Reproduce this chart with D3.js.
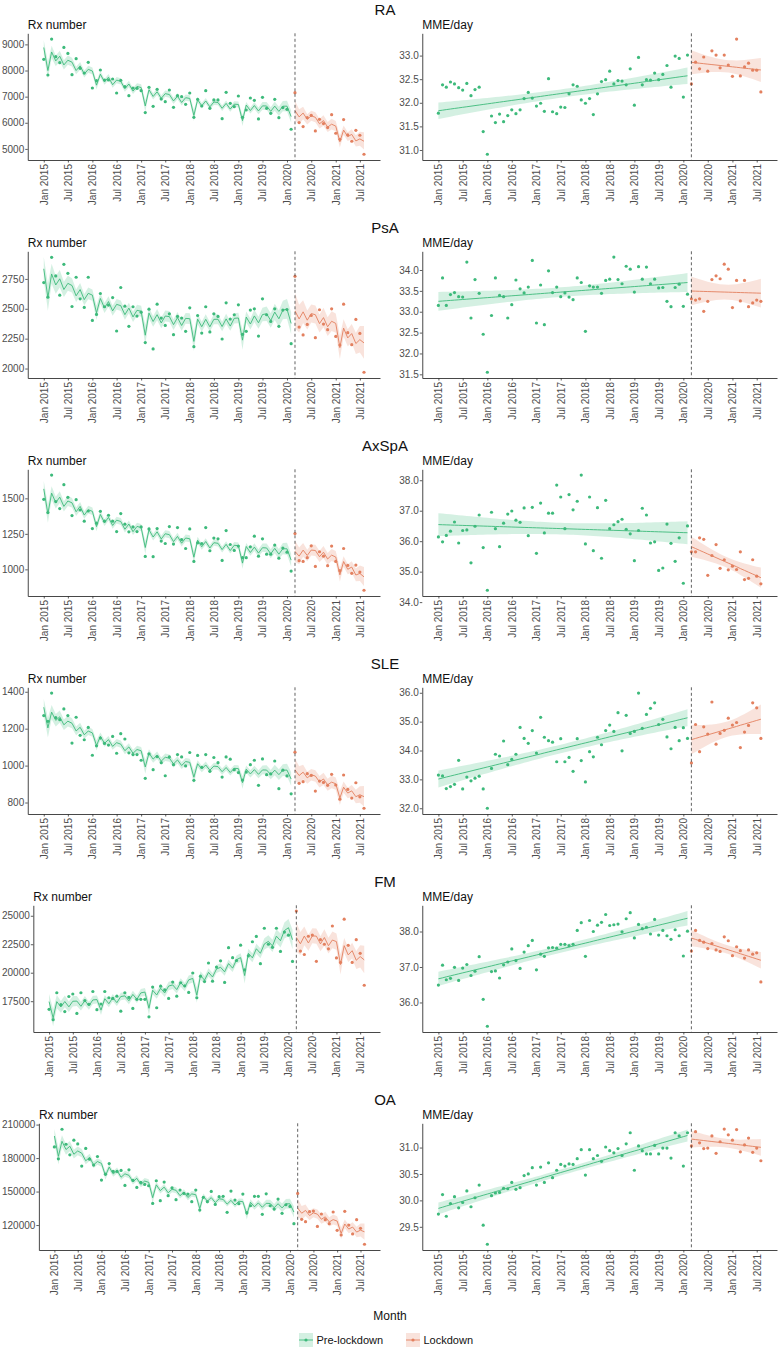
<!DOCTYPE html>
<html><head><meta charset="utf-8">
<script src="https://cdn.jsdelivr.net/npm/d3@7"></script>
<style>
body{margin:0;background:#fff}
svg{display:block}
text{font-family:"Liberation Sans",Arial,Helvetica,sans-serif}
</style>
</head><body>
<svg id="chart" width="781" height="1354"></svg>
<script>
// ---------------- DATA ----------------
// Monthly values Jan 2015 .. Aug 2021 (first 62 = pre-lockdown, last 18 = lockdown)
const conditions = ["RA", "PsA", "AxSpA", "SLE", "FM", "OA"];
const groupNames = ["Pre-lockdown", "Lockdown"];

const raRx = [8427,7828,9204,8529,8299,8885,8656,7841,8452,8083,7904,8312,
  7331,7611,8019,7637,7637,7675,7140,7624,7382,7038,7331,7318,
  7229,6389,7357,6631,7280,6911,6809,7255,6592,7038,7000,6707,
  7140,6210,6898,6643,7229,6554,6873,6873,6159,7166,6745,6618,
  7025,6210,6490,6949,6860,6146,6975,6554,6363,6898,6197,6580,
  6516,5752,
  7153,6006,5854,6197,6287,5688,6134,5968,5815,6312,5599,5369,6121,5535,5293,5713,5522,4796];
const raMME = [31.78,32.38,32.33,32.44,32.40,32.32,32.27,32.41,32.15,32.28,32.33,31.39,
  30.91,31.72,31.58,31.76,31.60,31.73,31.85,31.77,31.85,32.09,32.22,32.10,
  31.93,31.99,31.82,32.51,31.81,31.77,31.91,31.90,32.19,32.38,32.35,32.06,
  31.99,32.09,31.75,32.19,32.45,32.49,32.67,32.40,32.47,32.46,32.38,32.72,
  31.95,32.96,32.38,32.49,32.48,32.63,32.49,32.60,32.79,32.33,32.99,32.94,
  32.12,33.01,
  32.40,32.86,32.72,32.97,32.67,33.10,33.01,32.74,33.01,32.80,32.56,33.35,32.57,32.76,32.84,32.69,32.69,32.23];
const psaRx = [2719,2597,2931,2775,2614,2872,2797,2519,2764,2583,2511,2764,
  2403,2453,2628,2517,2531,2594,2314,2678,2522,2353,2517,2439,
  2472,2217,2497,2164,2539,2422,2361,2458,2283,2436,2422,2311,
  2508,2183,2444,2297,2517,2306,2458,2436,2247,2550,2414,2450,
  2533,2286,2311,2489,2500,2272,2583,2450,2394,2500,2353,2489,
  2494,2208,
  2772,2347,2281,2369,2444,2258,2492,2372,2325,2500,2269,2197,2539,2300,2200,2411,2294,1969];
const psaMME = [33.15,33.81,33.15,33.41,33.46,33.36,33.35,34.19,32.85,33.77,33.44,32.46,
  31.55,32.91,33.81,33.39,33.36,32.85,33.17,33.76,33.55,33.45,33.59,34.23,
  32.73,33.64,32.69,33.98,33.46,33.59,33.36,33.45,33.35,33.29,33.81,33.70,
  32.53,33.62,33.59,33.59,33.44,33.75,33.78,34.31,33.77,33.67,34.09,34.02,
  33.47,34.08,33.78,34.07,33.67,33.78,33.57,33.58,33.25,33.12,33.58,33.66,
  33.13,33.42,
  33.31,33.28,33.31,33.01,33.25,33.77,33.86,33.79,34.14,34.02,33.10,33.75,33.26,33.75,33.12,33.21,33.28,33.25];
const axspaRx = [1493,1400,1664,1477,1428,1596,1507,1379,1491,1418,1339,1411,
  1287,1325,1409,1339,1381,1339,1266,1393,1318,1264,1299,1266,
  1299,1091,1285,1089,1287,1199,1182,1301,1178,1294,1210,1147,
  1285,1056,1187,1182,1294,1131,1220,1215,1063,1273,1175,1133,
  1164,1082,1082,1159,1234,1093,1215,1107,1107,1171,1079,1150,
  1121,988,
  1252,1061,1056,1082,1166,1021,1124,1093,1026,1164,1056,991,1147,1028,972,1030,981,853];
const axspaMME = [36.14,35.98,36.19,36.33,36.63,35.94,36.35,36.37,35.29,36.49,36.86,35.79,
  34.39,36.95,36.41,35.82,36.59,36.89,36.99,36.69,36.62,37.09,36.18,37.11,
  35.60,37.25,36.27,36.92,36.92,37.84,37.45,36.41,37.53,37.03,37.31,38.17,
  35.91,37.45,35.69,37.10,35.44,37.34,36.41,36.54,36.64,36.72,36.39,36.24,
  35.36,36.35,37.08,36.86,35.94,35.98,35.04,35.12,36.56,35.93,35.34,36.11,
  34.62,36.50,
  35.65,35.65,36.11,36.06,34.88,35.53,35.89,35.11,35.39,35.06,35.18,35.07,35.65,34.74,34.78,35.39,34.85,34.60];
const sleRx = [1271,1240,1393,1260,1249,1307,1271,1122,1262,1164,1140,1207,
  1056,1107,1149,1120,1111,1158,1067,1173,1144,1069,1060,1060,
  1029,931,1064,978,1049,1016,945,1047,1005,1060,1047,998,
  1071,920,1055,991,1060,969,1044,1016,938,1047,1035,978,
  962,922,965,1005,1029,893,1036,951,955,1025,875,975,
  944,847,
  1073,904,913,956,947,862,916,909,893,953,895,818,949,871,824,907,831,769];
const sleMME = [33.15,33.12,32.68,32.75,32.83,33.66,32.67,33.08,32.95,33.04,33.11,32.67,
  32.00,33.38,33.87,33.81,34.33,33.51,33.69,33.87,34.80,34.42,34.25,34.69,
  33.91,35.15,34.46,34.34,34.29,33.61,34.41,33.61,33.76,33.28,34.41,33.65,
  32.91,33.96,33.78,34.46,34.20,34.69,34.88,34.66,35.31,33.99,35.22,34.59,
  34.66,35.99,34.77,35.25,35.46,35.65,34.90,35.08,34.47,34.06,34.80,34.34,
  34.79,34.42,
  33.57,34.90,33.96,34.82,34.57,35.68,34.22,34.59,34.70,35.12,34.88,34.97,34.10,34.64,34.87,35.65,35.48,34.42];
const fmRx = [16786,15879,18242,17198,16593,17912,18132,16429,18242,17555,17225,18352,
  16758,17253,18352,17802,17747,17940,16621,18242,17830,16868,17665,17665,
  17665,16126,18736,16923,18819,18489,17747,19176,17940,19121,18846,18269,
  19973,17802,19698,19231,20852,19258,20495,21044,19148,22198,21319,21071,
  22418,20247,21484,22720,23187,20797,23901,22500,22225,23901,21868,23571,
  23297,20989,
  25412,21900,21600,23200,23300,21000,22900,22500,22100,24100,21300,20900,24700,22400,20900,22900,21700,18900];
const fmMME = [36.49,37.05,36.64,36.68,36.99,36.62,36.97,37.07,36.76,36.88,37.29,36.09,
  35.33,36.87,36.89,36.69,37.06,37.14,37.51,37.18,36.96,37.42,37.60,37.75,
  36.92,37.36,37.30,37.54,37.55,37.53,37.64,37.64,37.60,37.64,38.03,38.25,
  37.30,38.31,38.00,38.18,38.26,38.48,38.17,38.19,38.21,37.99,38.36,38.53,
  37.82,38.20,38.08,38.12,37.93,38.34,37.90,38.03,37.88,37.78,38.05,37.88,
  37.31,38.01,
  37.45,38.03,37.75,37.70,37.52,37.66,37.48,37.44,37.85,37.74,37.32,37.57,37.46,37.25,37.48,37.36,37.40,36.58];
const oaRx = [190000,179300,205800,192400,182900,196000,192700,172800,188600,179000,173700,181400,
  160300,165600,175100,168000,168000,168900,155500,169500,160000,153700,158200,156400,
  155200,139400,159700,141800,158500,146300,153400,142700,151300,148300,147700,140900,
  151300,133400,144800,140900,150100,138500,145400,145700,131400,150400,142400,139100,
  147700,131100,137300,145700,145700,129600,148000,137300,134300,143300,130500,138200,
  136700,121200,
  148300,125100,123000,132000,132500,118800,129900,124800,121200,131700,115300,111100,132300,120000,112000,124800,117100,102800];
const oaMME = [29.74,30.11,29.70,29.94,30.07,29.86,29.96,30.18,29.88,30.05,30.29,29.53,
  29.17,30.09,30.14,30.15,30.23,30.22,30.34,30.21,30.24,30.47,30.50,30.62,
  30.29,30.63,30.34,30.71,30.43,30.57,30.68,30.65,30.69,30.68,30.79,30.96,
  30.48,30.96,30.79,30.85,30.74,31.01,30.94,30.90,30.98,30.85,31.07,31.28,
  30.57,31.03,30.94,30.88,30.88,31.04,30.88,30.99,30.99,30.80,31.28,31.22,
  30.65,31.28,
  31.03,31.30,31.09,30.98,30.99,31.22,30.89,31.11,31.35,31.24,31.14,31.34,30.92,31.05,31.18,30.91,30.99,30.75];

const rxSeries = [raRx, psaRx, axspaRx, sleRx, fmRx, oaRx];
const mmeSeries = [raMME, psaMME, axspaMME, sleMME, fmMME, oaMME];

const rxTicks = [
  [5000, 6000, 7000, 8000, 9000],
  [2000, 2250, 2500, 2750],
  [1000, 1250, 1500],
  [800, 1000, 1200, 1400],
  [17500, 20000, 22500, 25000],
  [120000, 150000, 180000, 210000]
];
const mmeTicks = [
  [31.0, 31.5, 32.0, 32.5, 33.0],
  [31.5, 32.0, 32.5, 33.0, 33.5, 34.0],
  [34.0, 35.0, 36.0, 37.0, 38.0],
  [32.0, 33.0, 34.0, 35.0, 36.0],
  [36.0, 37.0, 38.0],
  [29.5, 30.0, 30.5, 31.0]
];
const rxLabel = "Rx number";
const mmeLabel = "MME/day";
const xAxisTitle = "Month";

// ---------------- SETUP ----------------
const N = 80, LOCK = 62;
const dates = d3.range(N).map(i => new Date(2015, i, 1));
const lockDate = dates[LOCK];
const xTicks = d3.timeMonth.range(new Date(2015, 0, 1), new Date(2021, 7, 2), 6);
const span = dates[N - 1] - dates[0];
const xDomain = [new Date(+dates[0] - 0.05 * span), new Date(+dates[N - 1] + 0.05 * span)];

const COL = ["#3dba7b", "#e3805f"];
const FILL = ["#3dba7b", "#e3805f"];

const svg = d3.select("#chart");

// number of days in each month (calendar covariate for the Rx model)
const monthDays = dates.map(d => d3.timeDay.count(d, d3.timeMonth.offset(d, 1)));

// ---------------- STATS ----------------
function tcrit(df) {
  const z = 1.959964;
  return z + (z ** 3 + z) / (4 * df) + (5 * z ** 5 + 16 * z ** 3 + 3 * z) / (96 * df * df);
}
function invert(M) {
  const n = M.length;
  const A = M.map((r, i) => r.concat(d3.range(n).map(j => (i === j ? 1 : 0))));
  for (let c = 0; c < n; c++) {
    let piv = c;
    for (let r = c + 1; r < n; r++) if (Math.abs(A[r][c]) > Math.abs(A[piv][c])) piv = r;
    [A[c], A[piv]] = [A[piv], A[c]];
    const d = A[c][c];
    for (let k = 0; k < 2 * n; k++) A[c][k] /= d;
    for (let r = 0; r < n; r++) {
      if (r === c) continue;
      const f = A[r][c];
      if (f !== 0) for (let k = 0; k < 2 * n; k++) A[r][k] -= f * A[c][k];
    }
  }
  return A.map(r => r.slice(n));
}
const dot = (a, b) => a.reduce((s, v, i) => s + v * b[i], 0);
const quad = (x, M) => { let v = 0; for (let j = 0; j < x.length; j++) for (let k = 0; k < x.length; k++) v += x[j] * M[j][k] * x[k]; return v; };

function wls(X, z, w) {
  const n = X.length, p = X[0].length;
  const A = d3.range(p).map(() => new Array(p).fill(0));
  const b = new Array(p).fill(0);
  for (let i = 0; i < n; i++) for (let j = 0; j < p; j++) {
    b[j] += w[i] * X[i][j] * z[i];
    for (let k = 0; k < p; k++) A[j][k] += w[i] * X[i][j] * X[i][k];
  }
  const inv = invert(A);
  return { beta: inv.map(r => dot(r, b)), inv };
}
function ols(X, y) {
  const { beta, inv } = wls(X, y, y.map(() => 1));
  let rss = 0;
  for (let i = 0; i < X.length; i++) rss += (y[i] - dot(X[i], beta)) ** 2;
  const df = X.length - X[0].length;
  return { beta, inv, s2: rss / df, df };
}
// quasi-Poisson GLM (log link) by IRLS
function quasiPoisson(X, y) {
  let beta = X[0].map((_, j) => (j === 0 ? Math.log(d3.mean(y)) : 0));
  let inv, mu;
  for (let it = 0; it < 30; it++) {
    const eta = X.map(r => dot(r, beta));
    mu = eta.map(Math.exp);
    const z = eta.map((e, i) => e + (y[i] - mu[i]) / mu[i]);
    const res = wls(X, z, mu);
    beta = res.beta; inv = res.inv;
  }
  mu = X.map(r => Math.exp(dot(r, beta)));
  const df = X.length - X[0].length;
  const phi = d3.sum(y, (v, i) => (v - mu[i]) ** 2 / mu[i]) / df;
  return { beta, inv, phi, df };
}

// Rx number: segmented quadratic trend + month length, quasi-Poisson model
function seasonalFit(vals) {
  const row = i => {
    const L = i >= LOCK ? 1 : 0;
    const t = i / 10, s = (i - LOCK) / 10;
    return [1, t, t * t, L, L * s, L * s * s, Math.log(monthDays[i] / 30.4)];
  };
  const X = d3.range(N).map(row);
  const fit = quasiPoisson(X, vals);
  return d3.range(N).map(i => {
    const x = row(i), eta = dot(x, fit.beta), se = Math.sqrt(quad(x, fit.inv) * fit.phi);
    return { i, g: i >= LOCK ? 1 : 0, m: Math.exp(eta), lo: Math.exp(eta - 1.96 * se), hi: Math.exp(eta + 1.96 * se) };
  });
}
// MME/day: linear trend per period
function linearFit(vals) {
  const out = [];
  [[0, LOCK], [LOCK, N]].forEach(([a, b], g) => {
    const idx = d3.range(a, b);
    const fit = ols(idx.map(i => [1, i]), idx.map(i => vals[i]));
    const tc = tcrit(fit.df);
    idx.forEach(i => {
      const x = [1, i], m = dot(x, fit.beta), h = tc * Math.sqrt(quad(x, fit.inv) * fit.s2);
      out.push({ i, g, m, lo: m - h, hi: m + h });
    });
  });
  return out;
}

// ---------------- LAYOUT ----------------
const ROW = 218;
const colLeft = [0, 397.3];
const colRight = [380, 777];

function measure(strs, size) {
  const t = svg.append("text").style("font-size", size + "px");
  const w = d3.max(strs, s => { t.text(s); return t.node().getComputedTextLength(); });
  t.remove();
  return w;
}

function drawPanel(r, c, vals, ticks, fmt, fits, label) {
  const top = r * ROW + 33.3, bottom = r * ROW + 160;
  const labW = measure(ticks.map(fmt), 10);
  const x0 = colLeft[c] + 2 + labW + 3.5;
  const x1 = colRight[c];
  const x = d3.scaleTime().domain(xDomain).range([x0, x1]);
  const ext = d3.extent(vals.concat(fits.map(d => d.lo), fits.map(d => d.hi)));
  const pad = (ext[1] - ext[0]) * 0.05;
  const y = d3.scaleLinear().domain([ext[0] - pad, ext[1] + pad]).range([bottom, top]);
  const g = svg.append("g");

  // ribbons + lines
  [0, 1].forEach(k => {
    const seg = fits.filter(d => d.g === k);
    g.append("path").datum(seg)
      .attr("d", d3.area().x(d => x(dates[d.i])).y0(d => y(d.lo)).y1(d => y(d.hi)))
      .attr("fill", FILL[k]).attr("fill-opacity", 0.22).attr("stroke", "none");
    g.append("path").datum(seg)
      .attr("d", d3.line().x(d => x(dates[d.i])).y(d => y(d.m)))
      .attr("fill", "none").attr("stroke", COL[k]).attr("stroke-width", 0.9);
  });
  // points
  g.selectAll("circle.pt").data(vals.map((v, i) => ({ v, i })))
    .join("circle").attr("class", "pt")
    .attr("cx", d => x(dates[d.i])).attr("cy", d => y(d.v)).attr("r", 1.6)
    .attr("fill", d => COL[d.i >= LOCK ? 1 : 0]);
  // lockdown line
  g.append("line").attr("x1", x(lockDate)).attr("x2", x(lockDate))
    .attr("y1", top).attr("y2", bottom)
    .attr("stroke", "#3a3a3a").attr("stroke-width", 0.8).attr("stroke-dasharray", "3,2.5");

  // axes
  const ya = g.append("g").attr("transform", `translate(${x0},0)`)
    .call(d3.axisLeft(y).tickValues(ticks).tickFormat(fmt).tickSize(2.5).tickSizeOuter(0).tickPadding(1));
  const xa = g.append("g").attr("transform", `translate(0,${bottom})`)
    .call(d3.axisBottom(x).tickValues(xTicks).tickFormat(d3.timeFormat("%b %Y")).tickSize(2.5).tickSizeOuter(0));
  xa.selectAll(".tick text")
    .attr("transform", "rotate(-90)").attr("x", -4).attr("y", 0).attr("dy", "0.35em")
    .style("text-anchor", "end");
  [ya, xa].forEach(a => {
    a.select(".domain").attr("stroke", "#333").attr("stroke-width", 0.9);
    a.selectAll(".tick line").attr("stroke", "#333").attr("stroke-width", 0.8);
    a.selectAll(".tick text").attr("fill", "#4d4d4d").style("font-size", "10px")
      .style("font-family", '"Liberation Sans",Arial,sans-serif');
  });
  // subtitle
  g.append("text").attr("x", x0).attr("y", r * ROW + 28.5).text(label)
    .style("font-size", "12px").attr("fill", "#111");
}

conditions.forEach((name, r) => {
  svg.append("text").attr("x", 385).attr("y", r * ROW + 14.7).attr("text-anchor", "middle")
    .style("font-size", "15px").attr("fill", "#111").text(name);
  drawPanel(r, 0, rxSeries[r], rxTicks[r], d3.format("d"), seasonalFit(rxSeries[r]), rxLabel);
  drawPanel(r, 1, mmeSeries[r], mmeTicks[r], d3.format(".1f"), linearFit(mmeSeries[r]), mmeLabel);
});

// x axis title
svg.append("text").attr("x", 390).attr("y", 1320).attr("text-anchor", "middle")
  .style("font-size", "12px").attr("fill", "#111").text(xAxisTitle);

// legend
const legX = [299, 406];
groupNames.forEach((nm, k) => {
  const lg = svg.append("g").attr("transform", `translate(${legX[k]},1333)`);
  lg.append("rect").attr("width", 14).attr("height", 14).attr("fill", FILL[k]).attr("fill-opacity", 0.22);
  lg.append("line").attr("x1", 0).attr("x2", 14).attr("y1", 7).attr("y2", 7).attr("stroke", COL[k]).attr("stroke-width", 0.9);
  lg.append("circle").attr("cx", 7).attr("cy", 7).attr("r", 1.6).attr("fill", COL[k]);
  lg.append("text").attr("x", 17.5).attr("y", 11).style("font-size", "11px").attr("fill", "#111").text(nm);
});
</script>
</body></html>
